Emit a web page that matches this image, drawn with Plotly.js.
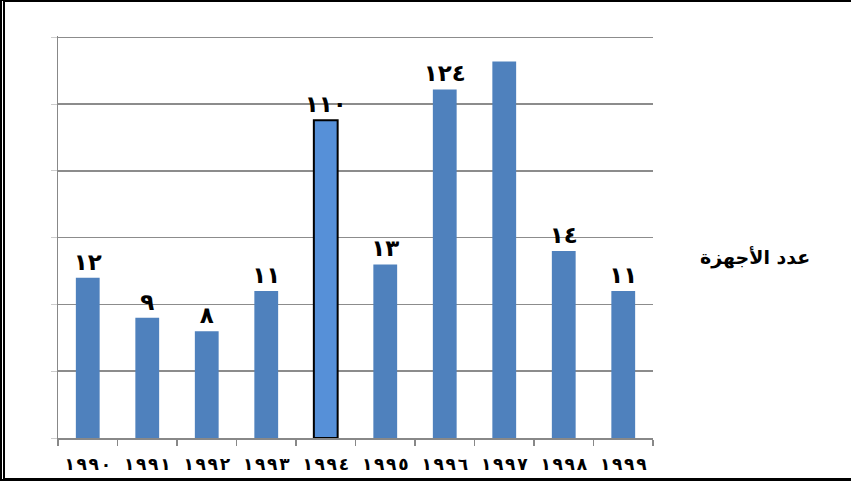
<!DOCTYPE html>
<html>
<head>
<meta charset="utf-8">
<script src="https://cdn.plot.ly/plotly-3.0.1.min.js"></script>
<style>
  html, body { margin: 0; padding: 0; background: #fff; }
  #wrap { position: absolute; left: 0; top: 0; width: 851px; height: 481px; box-sizing: border-box;
          border-left: 5px double #000; border-top: 2px solid #000; border-bottom: 3px solid #000; }
  #chart { position: absolute; left: -5px; top: -2px; width: 851px; height: 481px; }
</style>
</head>
<body>
<div id="wrap"><div id="chart"></div></div>
<script>
// Years (category axis) as shown, Arabic-Indic digits
const years = ["١٩٩٠", "١٩٩١", "١٩٩٢", "١٩٩٣", "١٩٩٤", "١٩٩٥", "١٩٩٦", "١٩٩٧", "١٩٩٨", "١٩٩٩"];
// Bar heights as drawn (axis units, 0–30 scale)
const barHeights = [12, 9, 8, 11, 23.8, 13, 26.1, 28.2, 14, 11];
// Value labels printed above the bars
const valueLabels = ["١٢", "٩", "٨", "١١", "١١٠", "١٣", "١٢٤", "", "١٤", "١١"];
const seriesName = "عدد الأجهزة";

// widen digit spacing while keeping left-to-right digit order
const spaced = s => Array.from(s).join("\u200E\u200A");

const barColors = years.map((y, i) => i === 4 ? "#5690d8" : "#4f81bd");
const lineWidths = years.map((y, i) => i === 4 ? 2 : 0);

const trace = {
  type: "bar",
  x: years,
  y: barHeights,
  text: valueLabels,
  textposition: "outside",
  constraintext: "none",
  cliponaxis: false,
  textfont: { family: "DejaVu Sans", size: 23, color: "#000", weight: "bold" },
  marker: { color: barColors, line: { color: "#000", width: lineWidths } },
  width: 0.4,
  name: seriesName,
  hoverinfo: "none"
};

const layout = {
  width: 851, height: 481,
  margin: { l: 58, r: 198, t: 36, b: 43 },
  paper_bgcolor: "rgba(0,0,0,0)",
  plot_bgcolor: "rgba(0,0,0,0)",
  showlegend: false,
  bargap: 0.6,
  xaxis: {
    type: "category",
    tickvals: years, ticktext: years.map(spaced), tickangle: 0,
    showline: true, linecolor: "#888", linewidth: 2,
    ticks: "outside", tickson: "boundaries", ticklen: 6, tickcolor: "#888", tickwidth: 1.5,
    ticklabelstandoff: 10,
    tickfont: { family: "DejaVu Sans", size: 17, color: "#000", weight: "bold" },
    showgrid: false
  },
  yaxis: {
    range: [0, 30.1], tick0: 0, dtick: 5,
    showline: true, linecolor: "#888", linewidth: 1,
    showgrid: true, gridcolor: "#8c8c8c", gridwidth: 1.5,
    ticks: "outside", ticklen: 6, tickcolor: "#ccc",
    showticklabels: false, zeroline: false
  },
  annotations: [{
    xref: "paper", yref: "paper", x: 1.268, y: 0.45,
    text: "<b>" + seriesName + "</b>", showarrow: false,
    font: { family: "DejaVu Sans", size: 19, color: "#000" }
  }]
};

Plotly.newPlot("chart", [trace], layout, { staticPlot: true });
</script>
</body>
</html>
